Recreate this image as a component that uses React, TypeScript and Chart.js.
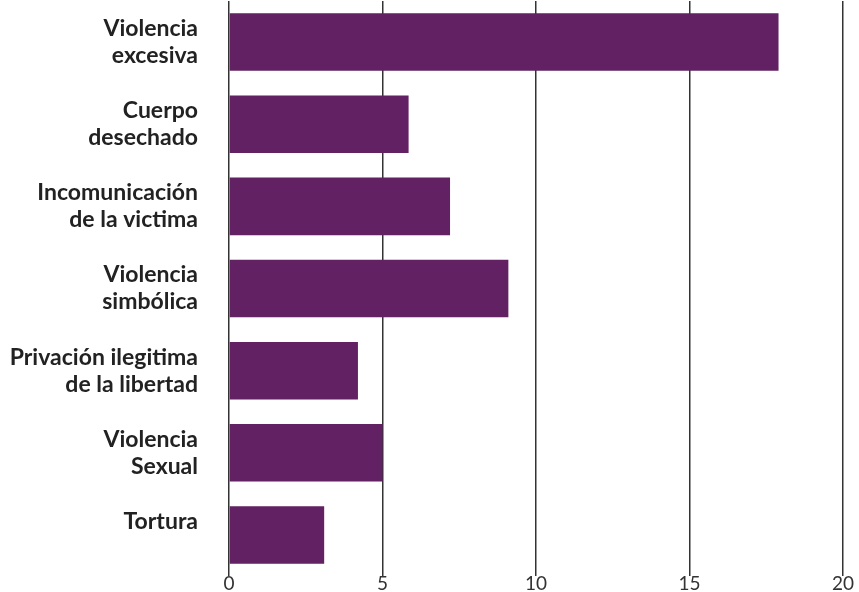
import React, { useEffect, useRef } from "react";
import { Chart, registerables } from "chart.js";

Chart.register(...registerables);

const categories: string[][] = [
  ["Violencia", "excesiva"],
  ["Cuerpo", "desechado"],
  ["Incomunicación", "de la victima"],
  ["Violencia", "simbólica"],
  ["Privación ilegitima", "de la libertad"],
  ["Violencia", "Sexual"],
  ["Tortura", ""],
];
const values: number[] = [17.9, 5.85, 7.2, 9.1, 4.2, 5.0, 3.1];
const xTicks: number[] = [0, 5, 10, 15, 20];

export default function App() {
  const ref = useRef<HTMLCanvasElement | null>(null);
  useEffect(() => {
    const ctx = ref.current!.getContext("2d")!;
    const chart = new Chart(ctx, {
      type: "bar",
      data: {
        labels: categories,
        datasets: [
          {
            data: values,
            backgroundColor: "#612162",
            borderWidth: 0,
            barPercentage: 0.7,
            categoryPercentage: 1,
          },
        ],
      },
      options: {
        indexAxis: "y",
        animation: false,
        responsive: false,
        maintainAspectRatio: false,
        layout: { padding: { left: 0, right: 16, top: 1, bottom: 0 } },
        plugins: { legend: { display: false }, tooltip: { enabled: false } },
        scales: {
          x: {
            min: 0,
            max: 20,
            afterBuildTicks: (s: any) => {
              s.ticks = xTicks.map((v) => ({ value: v }));
            },
            afterFit: (s: any) => {
              s.paddingRight = 0;
              s.paddingLeft = 0;
            },
            grid: {
              color: "#333333",
              lineWidth: 1.5,
              drawTicks: false,
            },
            border: { display: false },
            ticks: {
              color: "#333333",
              font: { family: "Lato", size: 19, lineHeight: 1.05 },
              padding: -2,
            },
          },
          y: {
            afterFit: (s: any) => {
              s.paddingTop = 0;
              s.paddingBottom = 0;
              s.width = 229;
            },
            grid: { display: false, drawTicks: false },
            border: { display: false },
            ticks: {
              color: "#222222",
              font: { family: "Lato", size: 23, weight: "bold", lineHeight: 1.17 },
              padding: 31,
            },
          },
        },
      },
    });
    return () => chart.destroy();
  }, []);
  return (
    <div style={{ position: "absolute", left: 0, top: 0, width: 859, height: 592 }}>
      <canvas ref={ref} width={859} height={592} />
    </div>
  );
}
